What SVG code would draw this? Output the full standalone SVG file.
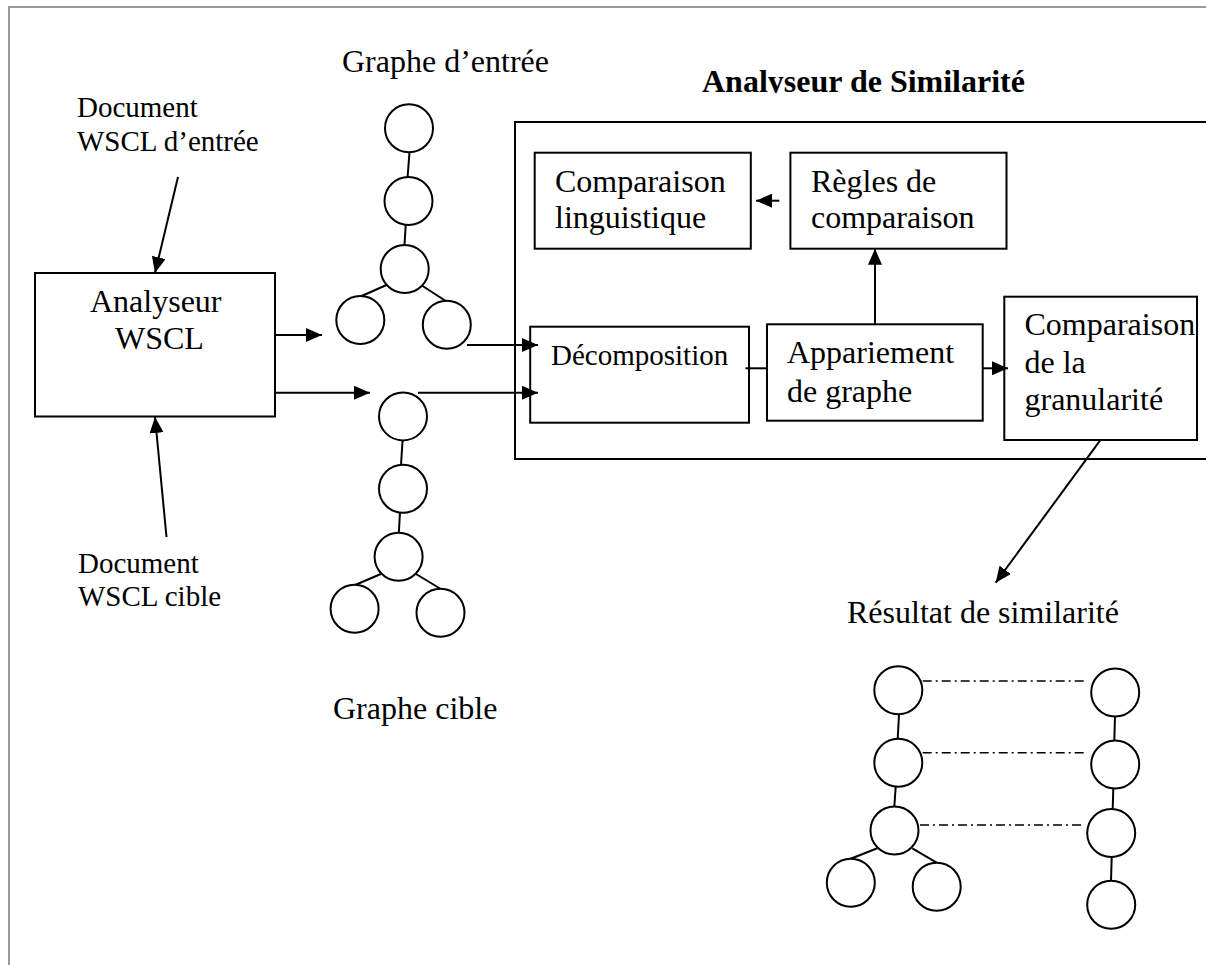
<svg xmlns="http://www.w3.org/2000/svg" width="1206" height="965" viewBox="0 0 1206 965">
  <style>
    .box { fill: #fff; stroke: #000; stroke-width: 2; }
    .node { fill: #fff; stroke: #000; stroke-width: 2; }
    .edge { fill: none; stroke: #000; stroke-width: 2; }
    .link { fill: none; stroke: #000; stroke-width: 2; }
    .arrow { fill: none; stroke: #000; stroke-width: 2; marker-end: url(#head); }
    .match { fill: none; stroke: #000; stroke-width: 1.5; stroke-dasharray: 9 4 2 4; }
    .t { font-family: "Liberation Serif", "Times New Roman", serif; font-size: 32px; fill: #000; }
    .s { font-size: 29px; }
    .title { font-weight: bold; }
  </style>
  <defs>
    <marker id="head" markerUnits="userSpaceOnUse" markerWidth="16" markerHeight="14" refX="16" refY="7" orient="auto">
      <path d="M0,0 L16,7 L0,14 z" fill="#000"/>
    </marker>
    <clipPath id="titleClip">
      <rect x="690" y="50" width="360" height="43"/>
    </clipPath>
  </defs>

  <rect width="1206" height="965" fill="#fff"/>
  <!-- page frame -->
  <path d="M9,965 V7 H1206" fill="none" stroke="#999" stroke-width="2"/>

  <!-- labels -->
  <g id="label-input-graph"><text class="t" x="342" y="72">Graphe d’entrée</text></g>
  <g id="label-target-graph"><text class="t" x="333" y="719">Graphe cible</text></g>
  <g id="label-input-doc">
    <text class="t s" x="77" y="117">Document</text>
    <text class="t s" x="77" y="151">WSCL d’entrée</text>
  </g>
  <g id="label-target-doc">
    <text class="t s" x="78" y="573">Document</text>
    <text class="t s" x="78" y="606">WSCL cible</text>
  </g>
  <g id="label-result"><text class="t" x="847" y="623">Résultat de similarité</text></g>

  <!-- WSCL parser -->
  <g id="wscl-parser">
    <rect class="box" x="35" y="273" width="240" height="143.5"/>
    <text class="t" x="90" y="312">Analyseur</text>
    <text class="t" x="115" y="349">WSCL</text>
  </g>

  <!-- similarity analyser container -->
  <g id="similarity-analyser">
    <rect class="box" x="515" y="122" width="710" height="337"/>
    <text class="t title" x="702" y="92" clip-path="url(#titleClip)">Analyseur de Similarité</text>
  </g>

  <g id="linguistic-comparison">
    <rect class="box" x="534.7" y="152.7" width="216.1" height="96"/>
    <text class="t" x="555" y="192">Comparaison</text>
    <text class="t" x="555" y="228">linguistique</text>
  </g>

  <g id="comparison-rules">
    <rect class="box" x="790.4" y="152.7" width="216.1" height="96"/>
    <text class="t" x="811" y="192">Règles de</text>
    <text class="t" x="811" y="228">comparaison</text>
  </g>

  <g id="decomposition">
    <rect class="box" x="530.2" y="326.7" width="218.8" height="96"/>
    <text class="t s" x="551" y="365">Décomposition</text>
  </g>

  <g id="graph-matching">
    <rect class="box" x="767" y="324.3" width="215.7" height="96.4"/>
    <text class="t" x="787" y="363">Appariement</text>
    <text class="t" x="787" y="402">de graphe</text>
  </g>

  <g id="granularity-comparison">
    <rect class="box" x="1004.3" y="296.7" width="192.7" height="143.3"/>
    <text class="t" x="1024.5" y="335">Comparaison</text>
    <text class="t" x="1024.5" y="373">de la</text>
    <text class="t" x="1024.5" y="410">granularité</text>
  </g>

  <!-- input graph -->
  <g id="input-graph">
    <path class="edge" d="M409.5,152 L407.6,177 M405.7,225 L404.5,245 M386.5,285 L361.7,296 M421,285 L445.8,301"/>
    <circle class="node" cx="409" cy="128.3" r="24"/>
    <circle class="node" cx="408.5" cy="201" r="24"/>
    <circle class="node" cx="404.7" cy="269" r="24"/>
    <circle class="node" cx="360.3" cy="320" r="24"/>
    <circle class="node" cx="446.8" cy="324.7" r="24"/>
  </g>

  <!-- target graph -->
  <g id="target-graph">
    <path class="edge" d="M402.6,440 L401,465 M400,512.5 L398.8,533 M380.8,574 L355.1,585 M416,574 L440,588.5"/>
    <circle class="node" cx="403" cy="416.4" r="24"/>
    <circle class="node" cx="403" cy="488.8" r="24"/>
    <circle class="node" cx="398.6" cy="556.7" r="24"/>
    <circle class="node" cx="354.6" cy="608.8" r="24"/>
    <circle class="node" cx="440.5" cy="612.8" r="24"/>
  </g>

  <!-- similarity result: two graphs with matched nodes -->
  <g id="result-graph-left">
    <path class="edge" d="M899,714.5 L897.7,739 M895.7,786.7 L894.3,806.7 M877.3,848.3 L850,859 M912.3,848.3 L936.7,862.7"/>
    <circle class="node" cx="898.3" cy="690.3" r="24"/>
    <circle class="node" cx="898.3" cy="762.8" r="24"/>
    <circle class="node" cx="894.5" cy="830.5" r="24"/>
    <circle class="node" cx="850.8" cy="882.8" r="24"/>
    <circle class="node" cx="936.7" cy="886.7" r="24"/>
  </g>
  <g id="result-graph-right">
    <path class="edge" d="M1115,716.5 L1114.3,740.5 M1113.3,788.5 L1112.7,809 M1111.7,857 L1111,880.7"/>
    <circle class="node" cx="1115.2" cy="692.5" r="24"/>
    <circle class="node" cx="1115.2" cy="764.5" r="24"/>
    <circle class="node" cx="1111.2" cy="833" r="24"/>
    <circle class="node" cx="1111.2" cy="904.7" r="24"/>
  </g>

  <!-- connectors -->
  <g id="connectors">
    <line class="arrow" x1="178" y1="177" x2="155" y2="273"/>
    <line class="arrow" x1="166.5" y1="537" x2="155" y2="417"/>
    <line class="arrow" x1="275" y1="335" x2="322" y2="335"/>
    <line class="arrow" x1="275" y1="392.7" x2="370" y2="392.7"/>
    <line class="arrow" x1="467" y1="345" x2="538" y2="345"/>
    <line class="arrow" x1="418" y1="392.7" x2="538" y2="392.7"/>
    <line class="link" x1="745.4" y1="368.3" x2="767" y2="368.3"/>
    <line class="arrow" x1="982.7" y1="368.3" x2="1008" y2="368.3"/>
    <line class="arrow" x1="875" y1="324.3" x2="875" y2="248.7"/>
    <line class="arrow" x1="779.3" y1="200.7" x2="756" y2="200.7"/>
    <line class="arrow" x1="1100" y1="440.7" x2="995.7" y2="582.7"/>
    <line class="match" x1="922.7" y1="681" x2="1086.7" y2="681"/>
    <line class="match" x1="922.7" y1="752.7" x2="1086.7" y2="752.7"/>
    <line class="match" x1="920" y1="825" x2="1085" y2="825"/>
  </g>
</svg>
